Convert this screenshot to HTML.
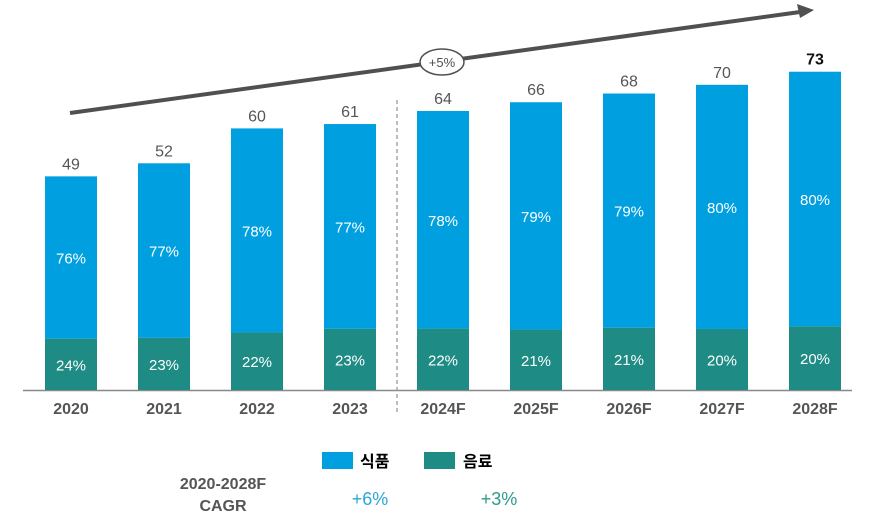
<!DOCTYPE html>
<html><head><meta charset="utf-8">
<style>
body{margin:0;background:#fff;width:873px;height:519px;overflow:hidden;font-family:"Liberation Sans","Noto Sans CJK KR",sans-serif;}
svg text{font-family:"Liberation Sans","Noto Sans CJK KR",sans-serif;}
</style></head>
<body>
<svg id="chart" width="873" height="519" viewBox="0 0 873 519">
  <line x1="23" y1="390.5" x2="852" y2="390.5" stroke="#888" stroke-width="1.5"/>
  <line x1="397" y1="100" x2="397" y2="415" stroke="#999" stroke-width="1.3" stroke-dasharray="4,3"/>
  <g>
    <line x1="70" y1="113" x2="800" y2="12" stroke="#505050" stroke-width="4"/>
    <polygon points="814,10 797,4 800,18" fill="#505050"/>
    <ellipse cx="442" cy="62" rx="22" ry="13" fill="#fff" stroke="#505050" stroke-width="1.5"/>
    <text x="442" y="67" text-anchor="middle" font-size="13" fill="#505050">+5%</text>
  </g>
  <g id="bars"></g>
  <g>
    <rect x="322" y="452" width="31" height="17" fill="#00a0e0"/>
    <text x="360" y="467" font-size="16" font-weight="bold" fill="#000">식품</text>
    <rect x="424" y="452" width="31" height="17" fill="#1e8c84"/>
    <text x="463" y="467" font-size="16" font-weight="bold" fill="#000">음료</text>
  </g>
  <text x="223" y="489" text-anchor="middle" font-size="16" font-weight="bold" fill="#555">2020-2028F</text>
  <text x="223" y="511" text-anchor="middle" font-size="16" font-weight="bold" fill="#555">CAGR</text>
  <text x="370" y="505" text-anchor="middle" font-size="18" fill="#2aa8d8">+6%</text>
  <text x="499" y="505" text-anchor="middle" font-size="18" fill="#2e9a8c">+3%</text>
</svg>
<script>
const categories=["2020","2021","2022","2023","2024F","2025F","2026F","2027F","2028F"];
const totals=[49,52,60,61,64,66,68,70,73];
const foodShare=[76,77,78,77,78,79,79,80,80];
const bevShare=[24,23,22,23,22,21,21,20,20];
const NS="http://www.w3.org/2000/svg";
const g=document.getElementById('bars');
const base=390, pxPerUnit=4.36, x0=45, step=93, bw=52;
function xPos(i){return x0+i*step;}
function yPos(v){return base-v*pxPerUnit;}
function mk(tag,attrs,txt){const e=document.createElementNS(NS,tag);for(const k in attrs)e.setAttribute(k,attrs[k]);if(txt!==undefined)e.textContent=txt;g.appendChild(e);return e;}
categories.forEach((c,i)=>{
  const x=xPos(i), t=totals[i];
  const yTop=yPos(t);
  const total=base-yTop;
  const ySplit=base-total*bevShare[i]/(bevShare[i]+foodShare[i]);
  let r=mk('rect',{x:x,y:yTop,width:bw,height:ySplit-yTop,fill:'#00a0e0'});
  
  
  r=mk('rect',{x:x,y:ySplit,width:bw,height:base-ySplit,fill:'#1e8c84'});
  
  
  let tx=mk('text',{x:x+bw/2,y:(yTop+ySplit)/2+6,'text-anchor':'middle','font-size':15,fill:'#fff'},foodShare[i]+'%');
  
  
  tx=mk('text',{x:x+bw/2,y:(ySplit+base)/2+6,'text-anchor':'middle','font-size':15,fill:'#fff'},bevShare[i]+'%');
  
  
  const last=i===categories.length-1;
  tx=mk('text',{x:x+bw/2,y:yTop-7,'text-anchor':'middle','font-size':16,fill:last?'#111':'#555','font-weight':last?'bold':'normal'},String(t));
  
  
  tx=mk('text',{x:x+bw/2,y:414,'text-anchor':'middle','font-size':16,'font-weight':'bold',fill:'#555'},c);
  
  
});
</script>
</body></html>
